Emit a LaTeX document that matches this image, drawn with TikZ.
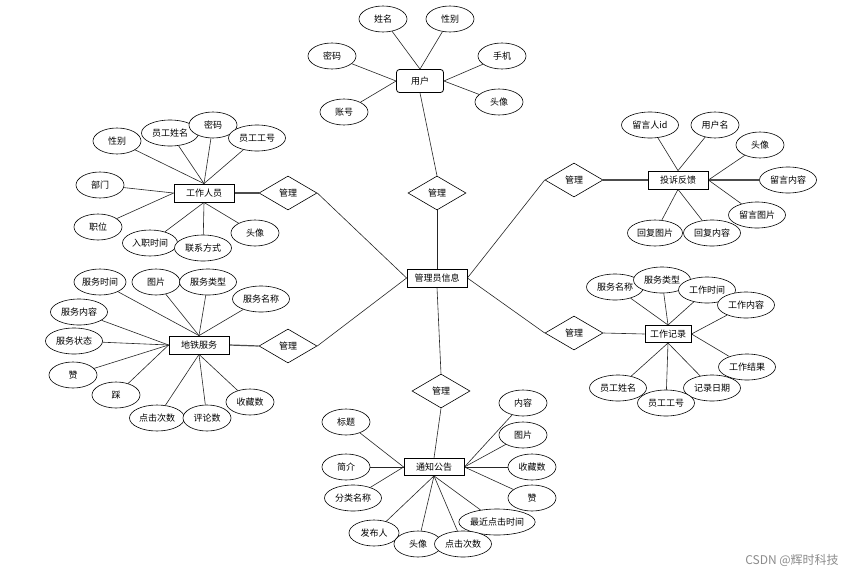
\documentclass[tikz,border=0pt]{standalone}
\usepackage{fontspec}
\setmainfont{Noto Sans CJK SC}
\usetikzlibrary{shapes.geometric}
\pgfdeclarelayer{bg}
\pgfsetlayers{bg,main}
\begin{document}
\begin{tikzpicture}[x=1pt,y=-1pt,
  every node/.style={font=\fontsize{9}{10}\selectfont},
  attr/.style={ellipse,draw,line width=0.6pt,minimum width=#1,minimum height=26,inner sep=0pt,fill=white},
  attr/.default=48,
  ent/.style={rectangle,draw,line width=0.8pt,minimum width=#1,minimum height=18,inner sep=0pt,fill=white},
  ent/.default=60,
  rel/.style={diamond,draw,line width=0.6pt,minimum width=58,minimum height=34,inner sep=0pt,fill=white},
  ln/.style={line width=0.6pt,black!85},
  tk/.style={line width=1.2pt,black!70},
]
\useasboundingbox (0,0) rectangle (860,576);

% ---------- center ----------
\node[ent] (adm) at (437,278) {管理员信息};
\node[rel] (r1) at (437,193) {管理};
\node[rel] (r2) at (288,193) {管理};
\node[rel] (r3) at (288,346) {管理};
\node[rel] (r4) at (574,180) {管理};
\node[rel] (r5) at (574,333) {管理};
\node[rel] (r6) at (441,391) {管理};

% ---------- 用户 ----------
\node[ent=47,minimum height=23,rounded corners=3pt] (user) at (420,81) {用户};
\node[attr] (u1) at (383,19) {姓名};
\node[attr] (u2) at (450,19) {性别};
\node[attr] (u3) at (332,56) {密码};
\node[attr] (u4) at (502,56) {手机};
\node[attr] (u5) at (499,102) {头像};
\node[attr] (u6) at (344,112) {账号};

% ---------- 工作人员 ----------
\node[ent] (staff) at (204,193) {工作人员};
\node[attr] (s1) at (117,141) {性别};
\node[attr=57] (s2) at (170,133) {员工姓名};
\node[attr] (s3) at (213,125) {密码};
\node[attr=57] (s4) at (257,138) {员工工号};
\node[attr] (s5) at (100,185) {部门};
\node[attr] (s6) at (98,227) {职位};
\node[attr=55] (s7) at (150,243) {入职时间};
\node[attr=57] (s8) at (203,248) {联系方式};
\node[attr] (s9) at (255,233) {头像};

% ---------- 地铁服务 ----------
\node[ent] (svc) at (199,345) {地铁服务};
\node[attr=52] (v1) at (100,282) {服务时间};
\node[attr] (v2) at (156,282) {图片};
\node[attr=57] (v3) at (208,282) {服务类型};
\node[attr=57] (v4) at (261,299) {服务名称};
\node[attr=57] (v5) at (79,312) {服务内容};
\node[attr=57] (v6) at (74,341) {服务状态};
\node[attr] (v7) at (73,375) {赞};
\node[attr] (v8) at (116,395) {踩};
\node[attr=55] (v9) at (157,418) {点击次数};
\node[attr] (v10) at (207,418) {评论数};
\node[attr] (v11) at (250,402) {收藏数};

% ---------- 投诉反馈 ----------
\node[ent] (fb) at (678,180) {投诉反馈};
\node[attr=57] (f1) at (650,125) {留言人id};
\node[attr] (f2) at (715,125) {用户名};
\node[attr] (f3) at (760,145) {头像};
\node[attr=57] (f4) at (788,180) {留言内容};
\node[attr=57] (f5) at (757,215) {留言图片};
\node[attr=55] (f6) at (655,233) {回复图片};
\node[attr=57] (f7) at (712,233) {回复内容};

% ---------- 工作记录 ----------
\node[ent=46,minimum height=17,line width=1pt] (wr) at (668,334) {工作记录};
\node[attr=57] (w1) at (615,287) {服务名称};
\node[attr=57] (w2) at (662,280) {服务类型};
\node[attr=57] (w3) at (707,290) {工作时间};
\node[attr=57] (w4) at (746,305) {工作内容};
\node[attr=57] (w5) at (747,367) {工作结果};
\node[attr=57] (w6) at (618,388) {员工姓名};
\node[attr=57] (w7) at (712,388) {记录日期};
\node[attr=57] (w8) at (666,403) {员工工号};

% ---------- 通知公告 ----------
\node[ent=60,minimum height=17] (nt) at (434,467) {通知公告};
\node[attr] (n1) at (346,422) {标题};
\node[attr] (n2) at (346,467) {简介};
\node[attr=57] (n3) at (353,498) {分类名称};
\node[attr=50] (n4) at (374,533) {发布人};
\node[attr] (n5) at (418,544) {头像};
\node[attr=75] (n6) at (497,522) {最近点击时间};
\node[attr=57] (n7) at (463,544) {点击次数};
\node[attr] (n8) at (523,403) {内容};
\node[attr] (n9) at (523,435) {图片};
\node[attr] (n10) at (532,467) {收藏数};
\node[attr] (n11) at (532,498) {赞};

\node[text=black!45,font=\fontsize{12}{13}\selectfont] (wm) at (792,560) {CSDN @辉时科技};

\begin{pgfonlayer}{bg}
\fill[white] (0,0) rectangle (860,576);
% center links
\draw[ln] (adm.north) -- (r1.south);
\draw[ln] (adm.west) -- (r2.east);
\draw[ln] (adm.west) -- (r3.east);
\draw[ln] (adm.east) -- (r4.west);
\draw[ln] (adm.east) -- (r5.west);
\draw[ln] (adm.south) -- (r6.north);
\draw[ln] (r1.north) -- (user.south);
\draw[tk] (r2.west) -- (staff.east);
\draw[tk] (r3.west) -- (svc.east);
\draw[tk] (r4.east) -- (fb.west);
\draw[ln] (r5.east) -- (wr.west);
\draw[ln] (r6.south) -- (nt.north);
% 用户
\draw[ln] (u1) -- (user.north);
\draw[ln] (u2) -- (user.north);
\draw[ln] (u3) -- (user.west);
\draw[ln] (u6) -- (user.west);
\draw[ln] (u4) -- (user.east);
\draw[ln] (u5) -- (user.east);
% 工作人员
\foreach \a in {s1,s2,s3,s4} \draw[ln] (\a) -- (staff.north);
\draw[ln] (s5) -- (staff.west);
\draw[ln] (s6) -- (staff.west);
\foreach \a in {s7,s8,s9} \draw[ln] (\a) -- (staff.south);
% 地铁服务
\foreach \a in {v1,v2,v3,v4} \draw[ln] (\a) -- (svc.north);
\foreach \a in {v5,v6,v7,v8} \draw[ln] (\a) -- (svc.west);
\foreach \a in {v9,v10,v11} \draw[ln] (\a) -- (svc.south);
% 投诉反馈
\foreach \a in {f1,f2} \draw[ln] (\a) -- (fb.north);
\draw[ln] (f3) -- (fb.east);
\draw[tk] (f4) -- (fb.east);
\draw[ln] (f5) -- (fb.east);
\foreach \a in {f6,f7} \draw[ln] (\a) -- (fb.south);
% 工作记录
\foreach \a in {w1,w2,w3} \draw[ln] (\a) -- (wr.north);
\draw[ln] (w4) -- (wr.east);
\draw[ln] (w5) -- (wr.east);
\foreach \a in {w6,w7,w8} \draw[ln] (\a) -- (wr.south);
% 通知公告
\foreach \a in {n1,n2,n3} \draw[ln] (\a) -- (nt.west);
\foreach \a in {n4,n5,n6,n7} \draw[ln] (\a) -- (nt.south);
\foreach \a in {n8,n9,n10,n11} \draw[ln] (\a) -- (nt.east);
\end{pgfonlayer}
\end{tikzpicture}
\end{document}
